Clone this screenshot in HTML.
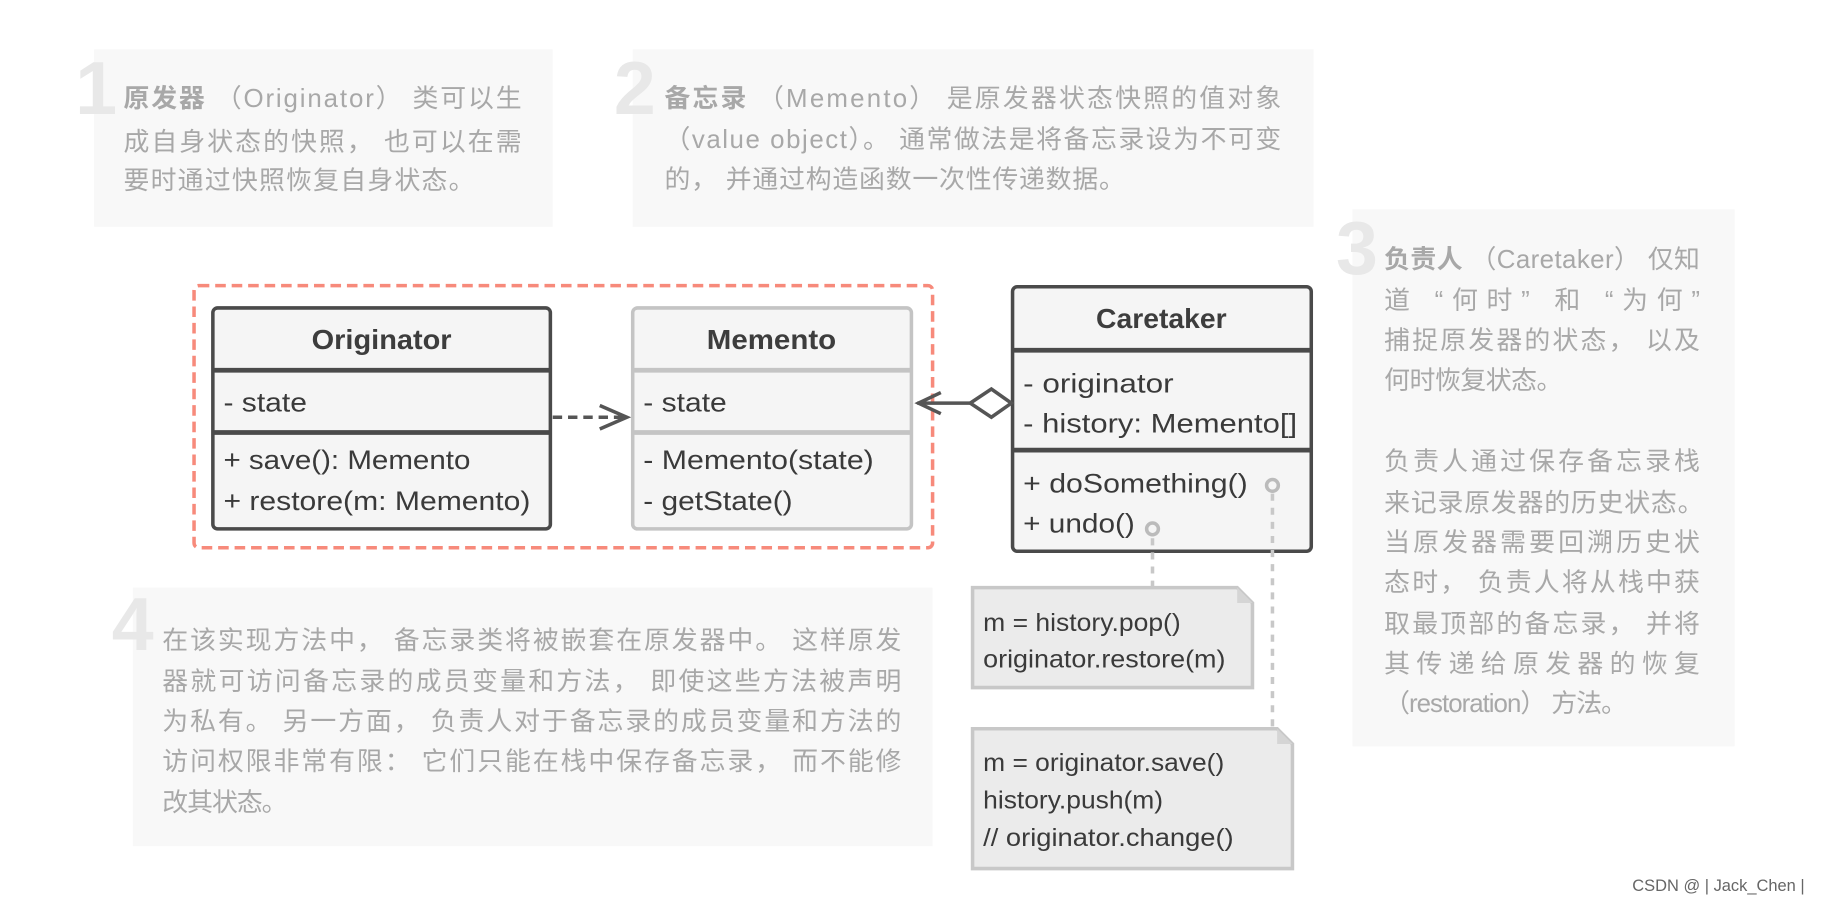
<!DOCTYPE html>
<html><head><meta charset="utf-8">
<style>
html,body{margin:0;padding:0;background:#fff;width:1844px;height:905px;overflow:hidden}
svg{display:block}
.d{font-family:"Liberation Sans","Noto Sans CJK SC",sans-serif;font-size:22px;fill:#a8a8a8;letter-spacing:1.5px}
.n{font-family:"Liberation Sans","Noto Sans CJK SC",sans-serif;font-size:64px;font-weight:bold;fill:#e8e8e8}
.u{font-family:"Liberation Sans",sans-serif;font-size:23px;fill:#3a3a3a}
.h{font-family:"Liberation Sans",sans-serif;font-size:24px;font-weight:bold;fill:#3d3d3d}
.c{font-family:"Liberation Sans",sans-serif;font-size:21px;fill:#3a3a3a}
</style></head><body>
<svg width="1844" height="905" viewBox="0 0 1568 770" preserveAspectRatio="none" xmlns="http://www.w3.org/2000/svg">
<rect x="80" y="42" width="390" height="151" fill="#f8f8f8"/>
<rect x="538" y="42" width="579" height="151" fill="#f8f8f8"/>
<rect x="1150" y="178" width="325" height="457" fill="#f8f8f8"/>
<rect x="113" y="500" width="680" height="220" fill="#f8f8f8"/>
<text class="n" x="64" y="97">1</text>
<text class="n" x="522" y="97">2</text>
<text class="n" x="1136" y="233">3</text>
<text class="n" x="95" y="553">4</text>

<text class="d" x="105" y="91" textLength="340" lengthAdjust="spacing"><tspan font-weight="bold">原发器</tspan> （Originator） 类可以生</text>
<text class="d" x="105" y="128" textLength="340" lengthAdjust="spacing">成自身状态的快照， 也可以在需</text>
<text class="d" x="105" y="161" textLength="300" lengthAdjust="spacing">要时通过快照恢复自身状态。</text>

<text class="d" x="565" y="91" textLength="526" lengthAdjust="spacing"><tspan font-weight="bold">备忘录</tspan> （Memento） 是原发器状态快照的值对象</text>
<text class="d" x="565" y="126" textLength="526" lengthAdjust="spacing">（value object）。 通常做法是将备忘录设为不可变</text>
<text class="d" x="565" y="160" textLength="393" lengthAdjust="spacing">的， 并通过构造函数一次性传递数据。</text>

<text class="d" x="1177" y="228" textLength="270" lengthAdjust="spacing"><tspan font-weight="bold">负责人</tspan> （Caretaker） 仅知</text>
<text class="d" x="1177" y="263" textLength="270" lengthAdjust="spacing">道 “何时” 和 “为何”</text>
<text class="d" x="1177" y="297" textLength="270" lengthAdjust="spacing">捕捉原发器的状态， 以及</text>
<text class="d" x="1177" y="331" textLength="153" lengthAdjust="spacing">何时恢复状态。</text>
<text class="d" x="1177" y="400" textLength="270" lengthAdjust="spacing">负责人通过保存备忘录栈</text>
<text class="d" x="1177" y="435" textLength="273" lengthAdjust="spacing">来记录原发器的历史状态。</text>
<text class="d" x="1177" y="469" textLength="270" lengthAdjust="spacing">当原发器需要回溯历史状</text>
<text class="d" x="1177" y="503" textLength="270" lengthAdjust="spacing">态时， 负责人将从栈中获</text>
<text class="d" x="1177" y="538" textLength="270" lengthAdjust="spacing">取最顶部的备忘录， 并将</text>
<text class="d" x="1177" y="572" textLength="270" lengthAdjust="spacing">其传递给原发器的恢复</text>
<text class="d" x="1177" y="606" textLength="208" lengthAdjust="spacing">（restoration） 方法。</text>

<text class="d" x="138" y="552" textLength="630" lengthAdjust="spacing">在该实现方法中， 备忘录类将被嵌套在原发器中。 这样原发</text>
<text class="d" x="138" y="587" textLength="630" lengthAdjust="spacing">器就可访问备忘录的成员变量和方法， 即使这些方法被声明</text>
<text class="d" x="138" y="621" textLength="630" lengthAdjust="spacing">为私有。 另一方面， 负责人对于备忘录的成员变量和方法的</text>
<text class="d" x="138" y="655" textLength="630" lengthAdjust="spacing">访问权限非常有限： 它们只能在栈中保存备忘录， 而不能修</text>
<text class="d" x="138" y="690" textLength="108" lengthAdjust="spacing">改其状态。</text>

<rect x="165" y="243" width="628" height="223" rx="4" fill="none" stroke="#f78a7b" stroke-width="3" stroke-dasharray="9,5"/>

<rect x="181" y="262" width="287" height="188" rx="4" fill="#f5f5f5" stroke="#4a4a4a" stroke-width="3"/>
<line x1="181" y1="315" x2="468" y2="315" stroke="#4a4a4a" stroke-width="4"/>
<line x1="181" y1="368" x2="468" y2="368" stroke="#4a4a4a" stroke-width="4"/>
<text class="h" x="265" y="297" textLength="119" lengthAdjust="spacingAndGlyphs">Originator</text>
<text class="u" x="190" y="350" textLength="71" lengthAdjust="spacingAndGlyphs">- state</text>
<text class="u" x="190" y="399" textLength="210" lengthAdjust="spacingAndGlyphs">+ save(): Memento</text>
<text class="u" x="190" y="434" textLength="261" lengthAdjust="spacingAndGlyphs">+ restore(m: Memento)</text>

<rect x="538" y="262" width="237" height="188" rx="4" fill="#f5f5f5" stroke="#c4c4c4" stroke-width="3"/>
<line x1="538" y1="315" x2="775" y2="315" stroke="#c4c4c4" stroke-width="4"/>
<line x1="538" y1="368" x2="775" y2="368" stroke="#c4c4c4" stroke-width="4"/>
<text class="h" x="601" y="297" textLength="110" lengthAdjust="spacingAndGlyphs">Memento</text>
<text class="u" x="547" y="350" textLength="71" lengthAdjust="spacingAndGlyphs">- state</text>
<text class="u" x="547" y="399" textLength="196" lengthAdjust="spacingAndGlyphs">- Memento(state)</text>
<text class="u" x="547" y="434" textLength="127" lengthAdjust="spacingAndGlyphs">- getState()</text>

<line x1="470" y1="355" x2="532" y2="355" stroke="#555" stroke-width="3" stroke-dasharray="8,5"/>
<polyline points="510,345 533,355 510,365" fill="none" stroke="#555" stroke-width="3"/>

<rect x="861" y="244" width="254" height="225" rx="4" fill="#f5f5f5" stroke="#4a4a4a" stroke-width="3"/>
<line x1="861" y1="298" x2="1115" y2="298" stroke="#4a4a4a" stroke-width="4"/>
<line x1="861" y1="383" x2="1115" y2="383" stroke="#4a4a4a" stroke-width="4"/>
<text class="h" x="932" y="279" textLength="111" lengthAdjust="spacingAndGlyphs">Caretaker</text>
<text class="u" x="870" y="334" textLength="128" lengthAdjust="spacingAndGlyphs">- originator</text>
<text class="u" x="870" y="368" textLength="233" lengthAdjust="spacingAndGlyphs">- history: Memento[]</text>
<text class="u" x="870" y="419" textLength="191" lengthAdjust="spacingAndGlyphs">+ doSomething()</text>
<text class="u" x="870" y="453" textLength="95" lengthAdjust="spacingAndGlyphs">+ undo()</text>

<line x1="780" y1="343" x2="825" y2="343" stroke="#555" stroke-width="3"/>
<polyline points="800,334 781,343 800,352" fill="none" stroke="#555" stroke-width="3"/>
<polygon points="825,343 843,331 860,343 843,355" fill="#fff" stroke="#555" stroke-width="3"/>

<circle cx="1082" cy="413" r="5" fill="none" stroke="#bbb" stroke-width="3"/>
<circle cx="980" cy="450" r="5" fill="none" stroke="#bbb" stroke-width="3"/>
<line x1="1082" y1="420" x2="1082" y2="620" stroke="#c8c8c8" stroke-width="3" stroke-dasharray="6,6"/>
<line x1="980" y1="458" x2="980" y2="499" stroke="#c8c8c8" stroke-width="3" stroke-dasharray="6,6"/>

<polygon points="827,500 1052,500 1065,513 1065,585 827,585" fill="#ebebeb" stroke="#c8c8c8" stroke-width="3"/>
<polygon points="1052,500 1052,513 1065,513" fill="#d5d5d5"/>
<text class="c" x="836" y="537" textLength="168" lengthAdjust="spacingAndGlyphs">m = history.pop()</text>
<text class="c" x="836" y="568" textLength="206" lengthAdjust="spacingAndGlyphs">originator.restore(m)</text>

<polygon points="827,620 1086,620 1099,633 1099,739 827,739" fill="#ebebeb" stroke="#c8c8c8" stroke-width="3"/>
<polygon points="1086,620 1086,633 1099,633" fill="#d5d5d5"/>
<text class="c" x="836" y="656" textLength="205" lengthAdjust="spacingAndGlyphs">m = originator.save()</text>
<text class="c" x="836" y="688" textLength="153" lengthAdjust="spacingAndGlyphs">history.push(m)</text>
<text class="c" x="836" y="720" fill="#8a8a8a" textLength="213" lengthAdjust="spacingAndGlyphs">// originator.change()</text>

<text x="1388" y="758" font-family="Liberation Sans,sans-serif" font-size="14" fill="#666">CSDN @ | Jack_Chen |</text>
</svg>
</body></html>
